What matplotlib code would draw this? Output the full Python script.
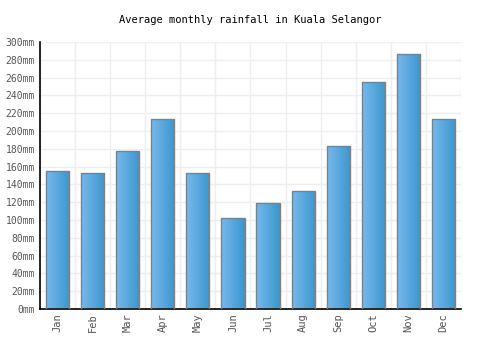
import matplotlib
matplotlib.use('Agg')
import matplotlib.pyplot as plt
import numpy as np
from matplotlib.colors import LinearSegmentedColormap

months = ['Jan', 'Feb', 'Mar', 'Apr', 'May', 'Jun', 'Jul', 'Aug', 'Sep', 'Oct', 'Nov', 'Dec']
rain = [155, 153, 177, 214, 153, 102, 119, 133, 183, 255, 286, 213]
yticks = list(range(0, 301, 20))

plt.rcParams['font.family'] = ['DejaVu Sans Mono']

fig = plt.figure(figsize=(5, 3.5), dpi=100)
ax = fig.add_axes([0.08, 0.117, 0.842, 0.763])

x = np.arange(len(months))
bars = ax.bar(x, rain, width=0.66, color='none', edgecolor='#808080', linewidth=1, zorder=3)

# left-to-right gradient inside each bar
cmap = LinearSegmentedColormap.from_list('blu', ['#79b8ea', '#3a97d0'])
grad = np.linspace(0, 1, 50).reshape(1, -1)
for b in bars:
    x0, w, h = b.get_x(), b.get_width(), b.get_height()
    im = ax.imshow(grad, cmap=cmap, aspect='auto', extent=[x0, x0 + w, 0, h], zorder=2)
    im.set_clip_path(b)

ax.set_xlim(-0.5, len(months) - 0.5)
ax.set_ylim(0, 300)
ax.set_xticks(x)
ax.set_xticklabels(months, rotation=90, fontsize=7.5, color='#555555')
ax.set_yticks(yticks)
ax.set_yticklabels(['%dmm' % v for v in yticks], fontsize=7, color='#555555')
ax.set_xticks(np.arange(-0.5, len(months)), minor=True)
ax.tick_params(axis='both', length=0, pad=3)
ax.tick_params(axis='y', pad=3.5)
ax.tick_params(axis='x', which='minor', length=0)
ax.grid(True, axis='y', color='#eeeeee', lw=1, zorder=0)
ax.grid(True, axis='x', which='minor', color='#eeeeee', lw=1, zorder=0)
ax.grid(False, axis='x', which='major')
for s in ['top', 'right']:
    ax.spines[s].set_visible(False)
ax.spines['left'].set_linewidth(1.2)
ax.spines['bottom'].set_linewidth(1.2)

fig.text(0.5, 0.943, 'Average monthly rainfall in Kuala Selangor', ha='center', va='center', fontsize=7.5)

fig.savefig('out.png', dpi=100)
